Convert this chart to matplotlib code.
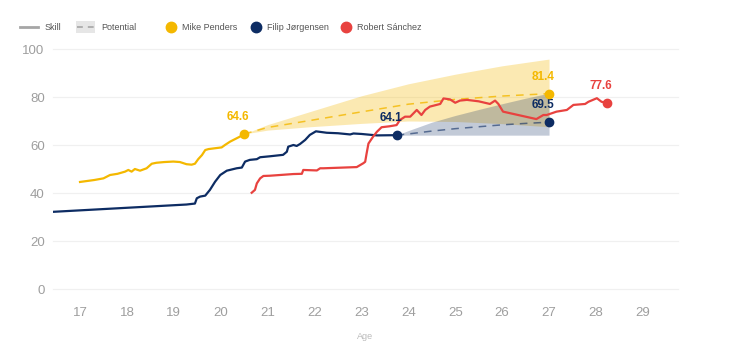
import matplotlib
matplotlib.use("Agg")
import matplotlib.pyplot as plt
from matplotlib.lines import Line2D
from matplotlib.patches import Rectangle

# colours
gold = "#F4B800"
navy = "#0D2C63"
red = "#E8423F"
tick_grey = "#9E9E9E"

# Mike Penders - skill history
mike_age = [17.0, 17.3, 17.5, 17.64, 17.8, 17.96, 18.03, 18.1, 18.17, 18.28, 18.42, 18.53, 18.63,
            18.8, 18.99, 19.13, 19.27, 19.38, 19.45, 19.52, 19.6, 19.67, 19.74, 19.9, 20.02, 20.09,
            20.2, 20.3, 20.41, 20.5]
mike_skill = [44.6, 45.4, 46.1, 47.5, 48.0, 48.9, 49.6, 48.9, 50.0, 49.3, 50.3, 52.2, 52.6,
              52.9, 53.1, 52.9, 52.0, 51.8, 52.2, 54.1, 55.8, 57.9, 58.3, 58.7, 59.0, 60.0,
              61.4, 62.4, 63.5, 64.6]

# Filip Jorgensen - skill history
filip_age = [16.0, 19.27, 19.45, 19.49, 19.56, 19.67, 19.77, 19.88, 19.99, 20.13, 20.34, 20.45,
             20.52, 20.62, 20.77, 20.84, 21.05, 21.33, 21.41, 21.44, 21.55, 21.62, 21.69, 21.8,
             21.9, 22.03, 22.26, 22.5, 22.76, 22.83, 23.0, 23.33, 23.75]
filip_skill = [31.7, 35.2, 35.6, 37.8, 38.5, 38.9, 41.3, 44.7, 47.5, 49.3, 50.3, 50.6,
               53.1, 53.8, 54.1, 54.9, 55.3, 55.9, 57.2, 59.3, 60.0, 59.6, 60.4, 62.1,
               64.2, 65.7, 65.1, 64.9, 64.4, 64.8, 64.6, 64.0, 64.1]

# Robert Sanchez - skill history
robert_age = [20.66, 20.73, 20.77, 20.84, 20.91, 21.05, 21.55, 21.73, 21.76, 22.05, 22.12, 22.19,
              22.9, 23.04, 23.08, 23.11, 23.15, 23.25, 23.33, 23.43, 23.6, 23.75, 23.82, 23.93,
              24.04, 24.18, 24.28, 24.36, 24.46, 24.68, 24.75, 24.89, 25.0, 25.1, 25.25, 25.5,
              25.74, 25.85, 25.92, 26.02, 26.73, 26.88, 26.95, 27.16, 27.38, 27.52, 27.77, 27.84,
              28.02, 28.12, 28.23]
robert_skill = [40.1, 41.3, 44.0, 46.1, 47.1, 47.2, 47.9, 48.0, 49.6, 49.4, 50.3, 50.3,
                50.8, 52.4, 53.0, 56.4, 60.6, 63.5, 65.5, 67.4, 67.8, 68.3, 70.4, 71.8,
                71.8, 74.6, 72.5, 74.6, 76.0, 77.1, 79.4, 79.0, 77.6, 78.5, 78.8, 78.2,
                77.1, 78.5, 77.1, 73.9, 70.8, 72.5, 72.5, 73.9, 74.6, 76.7, 77.1, 78.0,
                79.5, 78.0, 77.6]

# potential projections
mike_pot_age = [20.5, 21.0, 21.9, 23.0, 24.0, 25.0, 26.0, 27.0]
mike_pot_mid = [64.6, 67.3, 70.2, 73.8, 77.0, 79.0, 80.4, 81.4]
mike_pot_high = [64.6, 68.5, 73.9, 80.5, 85.5, 89.5, 93.0, 95.8]
mike_pot_low = [64.6, 66.2, 67.6, 69.0, 70.0, 69.8, 68.9, 67.6]

filip_pot_age = [23.75, 24.0, 24.5, 25.0, 25.5, 26.0, 26.5, 27.0]
filip_pot_mid = [64.1, 64.6, 65.8, 66.8, 67.6, 68.4, 69.0, 69.5]
filip_pot_high = [64.1, 66.0, 69.5, 72.3, 74.8, 77.2, 79.5, 81.6]
filip_pot_low = [64.1, 64.1, 64.1, 64.1, 64.1, 64.1, 64.1, 64.1]

x_ticks = [17, 18, 19, 20, 21, 22, 23, 24, 25, 26, 27, 28, 29]
y_ticks = [0, 20, 40, 60, 80, 100]

plt.rcParams['font.family'] = ['Liberation Sans', 'DejaVu Sans']

W, H = 750, 343
fig = plt.figure(figsize=(W / 100, H / 100), dpi=100)
ax = fig.add_axes([53 / W, 1 - 289 / H, (678 - 53) / W, (289 - 49) / H])

# bands
ax.fill_between(mike_pot_age, mike_pot_low, mike_pot_high, color=gold, alpha=0.3, lw=0)
ax.fill_between(filip_pot_age, filip_pot_low, filip_pot_high, color=navy, alpha=0.25, lw=0)

# dashed potential lines
ax.plot(mike_pot_age, mike_pot_mid, color=gold, lw=1.1, ls=(0, (5, 4)), alpha=0.8)
ax.plot(filip_pot_age, filip_pot_mid, color=navy, lw=1.1, ls=(0, (5, 4)), alpha=0.6)

# skill lines
ax.plot(mike_age, mike_skill, color=gold, lw=1.6, solid_joinstyle='round')
ax.plot(filip_age, filip_skill, color=navy, lw=1.6, solid_joinstyle='round')
ax.plot(robert_age, robert_skill, color=red, lw=1.6, solid_joinstyle='round')

# end dots + labels
ends = [
    (mike_age[-1], mike_skill[-1], gold),
    (filip_age[-1], filip_skill[-1], navy),
    (robert_age[-1], robert_skill[-1], red),
    (mike_pot_age[-1], mike_pot_mid[-1], gold),
    (filip_pot_age[-1], filip_pot_mid[-1], navy),
]
for x, y, c in ends:
    ax.plot([x], [y], 'o', color=c, ms=6, zorder=5)
    ax.annotate(f"{y:.1f}", (x, y), xytext=(-6, 17), textcoords='offset pixels',
                ha='center', va='center', color=c, fontsize=8.5, fontweight='bold')

ax.set_xlim(16.424, 29.75)
ax.set_ylim(0, 100)
ax.set_xticks(x_ticks)
ax.set_yticks(y_ticks)
ax.tick_params(length=0, colors=tick_grey, labelsize=9.5)
ax.tick_params(axis='x', pad=13)
ax.tick_params(axis='y', pad=6)
for s in ax.spines.values():
    s.set_visible(False)
ax.grid(axis='y', color="#F0F0F0", lw=0.9)
for gl in ax.get_ygridlines():
    gl.set_clip_on(False)
ax.set_axisbelow(True)

# axis title, tucked under the tick labels
fig.text(365 / W, 1 - 341 / H, "Age", ha='center', va='bottom', fontsize=6.5, color="#BBBBBB")

# legend drawn by hand
ly = 1 - 27 / H
fig.add_artist(Line2D([20 / W, 38 / W], [ly, ly], color="#A6A6A6", lw=2))
fig.text(45 / W, ly, "Skill", va='center', fontsize=6.5, color="#555555")
fig.add_artist(Rectangle((76 / W, 1 - 33 / H), 19 / W, 12 / H, color="#E6E6E6", lw=0))
fig.add_artist(Line2D([77 / W, 95 / W], [ly, ly], color="#A6A6A6", lw=1.2, ls=(0, (3.5, 3))))
fig.text(101 / W, ly, "Potential", va='center', fontsize=6.5, color="#555555")
for cx, name, c in [(171, "Mike Penders", gold), (256, "Filip Jørgensen", navy),
                    (346, "Robert Sánchez", red)]:
    fig.add_artist(Line2D([cx / W], [ly], marker='o', ms=7.5, color=c, lw=0))
    fig.text((cx + 11) / W, ly, name, va='center', fontsize=6.5, color="#555555")

fig.savefig("out.png", dpi=100)
